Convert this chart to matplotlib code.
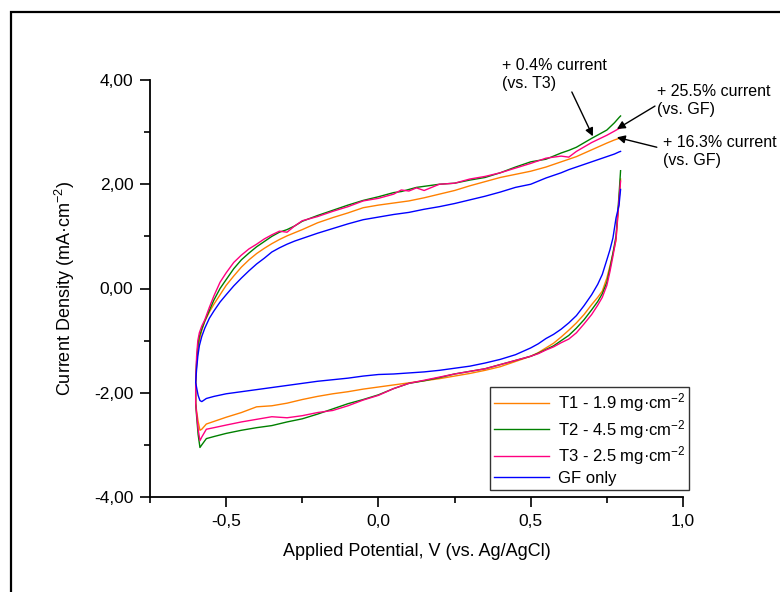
"""Cyclic voltammetry of coated felt electrodes vs. bare GF."""
import matplotlib
matplotlib.use('Agg')
import matplotlib.pyplot as plt
from matplotlib.patches import Rectangle
from matplotlib.ticker import MultipleLocator, FixedLocator, FuncFormatter

plt.rcParams['font.family'] = ['Liberation Sans', 'DejaVu Sans']
plt.rcParams['mathtext.default'] = 'regular'

# potential grid, forward (anodic) sweep, V vs Ag/AgCl
E_fwd = [-0.600, -0.597, -0.593, -0.588, -0.580, -0.570, -0.555, -0.540, -0.520,
         -0.500, -0.475, -0.450, -0.425, -0.400, -0.375, -0.350, -0.325, -0.300,
         -0.275, -0.250, -0.200, -0.150, -0.100, -0.050, 0.000, 0.050, 0.075,
         0.100, 0.125, 0.150, 0.200, 0.250, 0.300, 0.350, 0.400, 0.450, 0.500,
         0.550, 0.600, 0.625, 0.650, 0.700, 0.750, 0.775, 0.790, 0.795]
# potential grid, reverse (cathodic) sweep
E_rev = [0.795, 0.790, 0.780, 0.770, 0.760, 0.750, 0.735, 0.720, 0.700, 0.675,
         0.650, 0.625, 0.600, 0.575, 0.550, 0.525, 0.500, 0.450, 0.400, 0.350,
         0.300, 0.250, 0.200, 0.150, 0.100, 0.050, 0.000, -0.050, -0.100, -0.150,
         -0.200, -0.250, -0.300, -0.350, -0.400, -0.450, -0.500, -0.540, -0.565,
         -0.580, -0.586, -0.592, -0.597, -0.600]

# current density, mA/cm2
t1_fwd = [-1.80, -1.45, -1.20, -1.00, -0.80, -0.63, -0.45, -0.30, -0.12,
          0.06, 0.24, 0.41, 0.55, 0.67, 0.77, 0.86, 0.94, 1.01,
          1.07, 1.13, 1.26, 1.36, 1.45, 1.55, 1.60, 1.64, 1.66,
          1.68, 1.71, 1.74, 1.81, 1.88, 1.97, 2.05, 2.13, 2.19, 2.25,
          2.33, 2.43, 2.48, 2.53, 2.66, 2.79, 2.85, 2.88, 2.89]
t2_fwd = [-1.80, -1.40, -1.10, -0.92, -0.78, -0.62, -0.42, -0.22, 0.00,
          0.17, 0.38, 0.55, 0.68, 0.80, 0.90, 1.00, 1.08, 1.13,
          1.20, 1.29, 1.40, 1.50, 1.60, 1.69, 1.76, 1.84, 1.86,
          1.90, 1.94, 1.96, 2.00, 2.02, 2.08, 2.13, 2.22, 2.33, 2.43,
          2.48, 2.60, 2.65, 2.71, 2.88, 3.04, 3.18, 3.28, 3.31]
t3_fwd = [-1.80, -1.30, -1.00, -0.85, -0.72, -0.60, -0.36, -0.14, 0.12,
          0.30, 0.50, 0.64, 0.76, 0.85, 0.95, 1.03, 1.10, 1.08,
          1.20, 1.30, 1.38, 1.48, 1.57, 1.68, 1.73, 1.81, 1.89,
          1.87, 1.93, 1.88, 2.00, 2.02, 2.10, 2.15, 2.22, 2.31, 2.40,
          2.50, 2.54, 2.52, 2.63, 2.80, 2.94, 3.02, 3.07, 3.08]
gf_fwd = [-1.80, -1.55, -1.30, -1.10, -0.92, -0.76, -0.57, -0.43, -0.26,
          -0.12, 0.05, 0.20, 0.34, 0.47, 0.58, 0.70, 0.78, 0.85,
          0.91, 0.96, 1.06, 1.15, 1.24, 1.32, 1.37, 1.42, 1.44,
          1.46, 1.49, 1.52, 1.57, 1.63, 1.70, 1.77, 1.85, 1.94, 2.00,
          2.12, 2.22, 2.28, 2.33, 2.43, 2.53, 2.58, 2.62, 2.63]

t1_rev = [2.10, 1.70, 0.92, 0.67, 0.43, 0.20, -0.05, -0.17, -0.31, -0.50,
          -0.66, -0.80, -0.93, -1.05, -1.14, -1.23, -1.30, -1.40, -1.50, -1.57,
          -1.63, -1.68, -1.73, -1.77, -1.81, -1.85, -1.89, -1.93, -1.98, -2.02,
          -2.07, -2.13, -2.20, -2.25, -2.27, -2.38, -2.47, -2.55, -2.60,
          -2.70, -2.72, -2.55, -2.35, -2.20]
t2_rev = [2.26, 1.80, 1.00, 0.68, 0.38, 0.12, -0.10, -0.25, -0.41, -0.60,
          -0.76, -0.90, -1.00, -1.10, -1.17, -1.24, -1.30, -1.38, -1.46, -1.54,
          -1.59, -1.64, -1.71, -1.77, -1.82, -1.92, -2.04, -2.13, -2.21, -2.31,
          -2.41, -2.50, -2.56, -2.63, -2.67, -2.72, -2.78, -2.84, -2.88,
          -3.00, -3.05, -2.80, -2.45, -2.20]
t3_rev = [2.06, 1.70, 0.95, 0.62, 0.32, 0.06, -0.17, -0.32, -0.50, -0.68,
          -0.85, -0.97, -1.04, -1.12, -1.18, -1.25, -1.30, -1.38, -1.46, -1.54,
          -1.59, -1.64, -1.70, -1.76, -1.82, -1.92, -2.05, -2.14, -2.25, -2.34,
          -2.38, -2.44, -2.48, -2.46, -2.51, -2.56, -2.62, -2.67, -2.70,
          -2.85, -2.92, -2.70, -2.40, -2.20]
gf_rev = [1.90, 1.60, 1.35, 0.97, 0.74, 0.55, 0.27, 0.08, -0.12, -0.33,
          -0.52, -0.66, -0.78, -0.88, -0.96, -1.06, -1.14, -1.27, -1.36, -1.43,
          -1.49, -1.53, -1.57, -1.60, -1.62, -1.64, -1.65, -1.68, -1.72, -1.75,
          -1.78, -1.82, -1.86, -1.90, -1.94, -1.98, -2.02, -2.07, -2.11,
          -2.17, -2.15, -2.05, -1.90, -1.80]

labels = ['T1 - 1.9 mg·cm$^{-2}$', 'T2 - 4.5 mg·cm$^{-2}$',
          'T3 - 2.5 mg·cm$^{-2}$', 'GF only']
colors = ['#FF8000', '#008000', '#FF0080', '#0000FF']

fig = plt.figure(figsize=(7.8, 5.92), dpi=100)
ax = fig.add_axes([150 / 780, 95 / 592, 533 / 780, 417 / 592])

# outer frame
fig.patches.append(Rectangle((11 / 780, -0.1), 1.2, (592 - 12) / 592 + 0.1,
                             transform=fig.transFigure, fill=False,
                             ec='black', lw=1.6, clip_on=False))

series = [(t1_rev, t1_fwd), (t2_rev, t2_fwd), (t3_rev, t3_fwd), (gf_rev, gf_fwd)]
for (rev, fwd), lab, c in zip(series, labels, colors):
    ax.plot(E_rev + E_fwd, rev + fwd, color=c, lw=1.0, label=lab)

ax.set_xlim(-0.75, 1.0)
ax.set_ylim(-4, 4)
for s in ['top', 'right']:
    ax.spines[s].set_visible(False)
for s in ['left', 'bottom']:
    ax.spines[s].set_linewidth(1.3)

ax.xaxis.set_major_locator(FixedLocator([-0.5, 0.0, 0.5, 1.0]))
ax.xaxis.set_minor_locator(FixedLocator([-0.75, -0.25, 0.25, 0.75]))
ax.yaxis.set_major_locator(MultipleLocator(2))
ax.yaxis.set_minor_locator(MultipleLocator(1))
ax.xaxis.set_major_formatter(FuncFormatter(lambda v, p: f'{v:.1f}'.replace('.', ',')))
ax.yaxis.set_major_formatter(FuncFormatter(lambda v, p: f'{v:.2f}'.replace('.', ',')))
ax.tick_params(which='major', direction='out', length=7, width=1.2, labelsize=12.5, pad=5)
ax.tick_params(which='minor', direction='out', length=4, width=1.2)

ax.set_xlabel('Applied Potential, V (vs. Ag/AgCl)', fontsize=13, labelpad=10)
ax.set_ylabel('Current Density (mA·cm$^{-2}$)', fontsize=13, labelpad=12)

leg = ax.legend(loc='lower left', bbox_to_anchor=(0.638, 0.017), fontsize=12,
                frameon=True, fancybox=False, framealpha=1, edgecolor='#333333',
                handlelength=3.3, handletextpad=0.5, borderpad=0.25,
                labelspacing=0.22, borderaxespad=0)
leg.get_frame().set_linewidth(1.0)

# percentage annotations
arrow = dict(arrowstyle='-|>', color='black', lw=1.0, mutation_scale=12,
             shrinkA=0, shrinkB=0)
ax.annotate('', xy=(0.704, 2.92), xytext=(0.635, 3.77), arrowprops=arrow,
            annotation_clip=False)
ax.annotate('', xy=(0.783, 3.06), xytext=(0.908, 3.50), arrowprops=arrow,
            annotation_clip=False)
ax.annotate('', xy=(0.783, 2.90), xytext=(0.914, 2.71), arrowprops=arrow,
            annotation_clip=False)
ax.text(0.406, 4.42, '+ 0.4% current\n(vs. T3)', fontsize=11.5, va='top',
        linespacing=1.25, clip_on=False)
ax.text(0.914, 3.92, '+ 25.5% current\n(vs. GF)', fontsize=11.5, va='top',
        linespacing=1.25, clip_on=False)
ax.text(0.934, 2.94, '+ 16.3% current\n(vs. GF)', fontsize=11.5, va='top',
        linespacing=1.25, clip_on=False)

fig.savefig('out.png', dpi=100, facecolor='white')
